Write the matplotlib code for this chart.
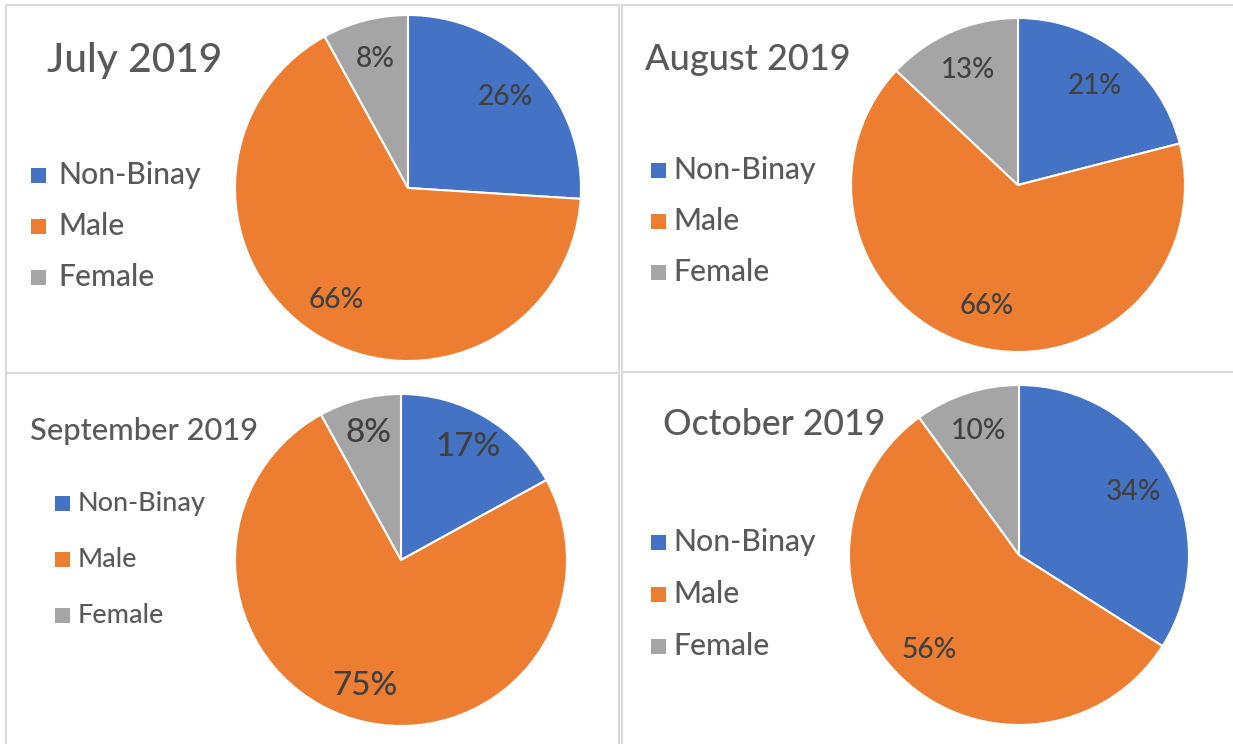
import matplotlib
matplotlib.use("Agg")
import matplotlib.pyplot as plt
from matplotlib.patches import Rectangle

# ---- data ----
categories = ["Non-Binay", "Male", "Female"]
months = ["July 2019", "August 2019", "September 2019", "October 2019"]
july = [26, 66, 8]
august = [21, 66, 13]
september = [17, 75, 8]
october = [34, 56, 10]
colors = ["#4472C4", "#ED7D31", "#A5A5A5"]

W, H = 1233, 744
fig = plt.figure(figsize=(W / 100, H / 100), dpi=100)
fig.patch.set_facecolor("white")
renderer = fig.canvas.get_renderer()
FONT = "Lato"
WEIGHT = "medium"
CAP = 0.7165  # cap height ratio of Lato


def fx(x):
    return x / W


def fy(y):
    return 1 - y / H


def fit_size(s, width_px, base=20):
    t = fig.text(0, 0, s, fontsize=base, family=FONT, fontweight=WEIGHT)
    bb = t.get_window_extent(renderer)
    t.remove()
    return base * width_px / bb.width


# panel borders
panels = [(6, 5, 619, 373), (622, 5, 1240, 372), (6, 373, 619, 750), (622, 372, 1240, 750)]
for (x0, y0, x1, y1) in panels:
    fig.patches.append(Rectangle((fx(x0), fy(y1)), (x1 - x0) / W, (y1 - y0) / H,
                                 transform=fig.transFigure, fill=False,
                                 edgecolor="#D9D9D9", linewidth=1.5, zorder=0))

# layout per panel
specs = [
    dict(vals=july, title=months[0], tx=47, tb=72, tw=175, cx=408, cy=188, r=173,
         pd=0.77, lw=55, sqx=31, txtx=58, rows=[173, 224, 275], legw=143),
    dict(vals=august, title=months[1], tx=645, tb=70, tw=205, cx=1018, cy=185, r=167,
         pd=0.75, lw=54, sqx=651, txtx=673, rows=[168, 219, 270], legw=143),
    dict(vals=september, title=months[2], tx=30, tb=440, tw=228, cx=401, cy=560, r=166,
         pd=0.79, lw=65, sqx=55, txtx=78, rows=[501, 557, 613], legw=128),
    dict(vals=october, title=months[3], tx=663, tb=435, tw=222, cx=1019, cy=555, r=170,
         pd=0.77, lw=55, sqx=651, txtx=673, rows=[540, 592, 644], legw=143),
]

for sp in specs:
    r = sp["r"]
    ax = fig.add_axes([fx(sp["cx"] - r), fy(sp["cy"] + r), 2 * r / W, 2 * r / H])
    wedges, _, autotexts = ax.pie(sp["vals"], colors=colors, startangle=90, counterclock=False,
                                  autopct="%d%%", pctdistance=sp["pd"],
                                  wedgeprops=dict(edgecolor="white", linewidth=1.5))
    ax.set_xlim(-1, 1)
    ax.set_ylim(-1, 1)
    ax.set_aspect("equal")
    ax.axis("off")
    lsize = fit_size("26%", sp["lw"])
    for t in autotexts:
        t.set_fontsize(lsize)
        t.set_family(FONT)
        t.set_fontweight(WEIGHT)
        t.set_color("#404040")

    # title
    ts = fit_size(sp["title"], sp["tw"])
    fig.text(fx(sp["tx"]), fy(sp["tb"]), sp["title"], fontsize=ts, family=FONT,
             fontweight=WEIGHT, color="#595959", ha="left", va="baseline")

    # legend
    gs = fit_size("Non-Binay", sp["legw"])
    cap_px = CAP * gs * 100 / 72
    sq = 15
    for w, name, yc in zip(wedges, categories, sp["rows"]):
        sqc = yc + 2.5
        fig.patches.append(Rectangle((fx(sp["sqx"]), fy(sqc + sq / 2)), sq / W, sq / H,
                                     transform=fig.transFigure, facecolor=w.get_facecolor(),
                                     edgecolor="none"))
        fig.text(fx(sp["txtx"]), fy(yc + cap_px / 2), name, fontsize=gs, family=FONT,
                 fontweight=WEIGHT, color="#595959", ha="left", va="baseline")

fig.savefig("out.png", dpi=100, facecolor="white")
